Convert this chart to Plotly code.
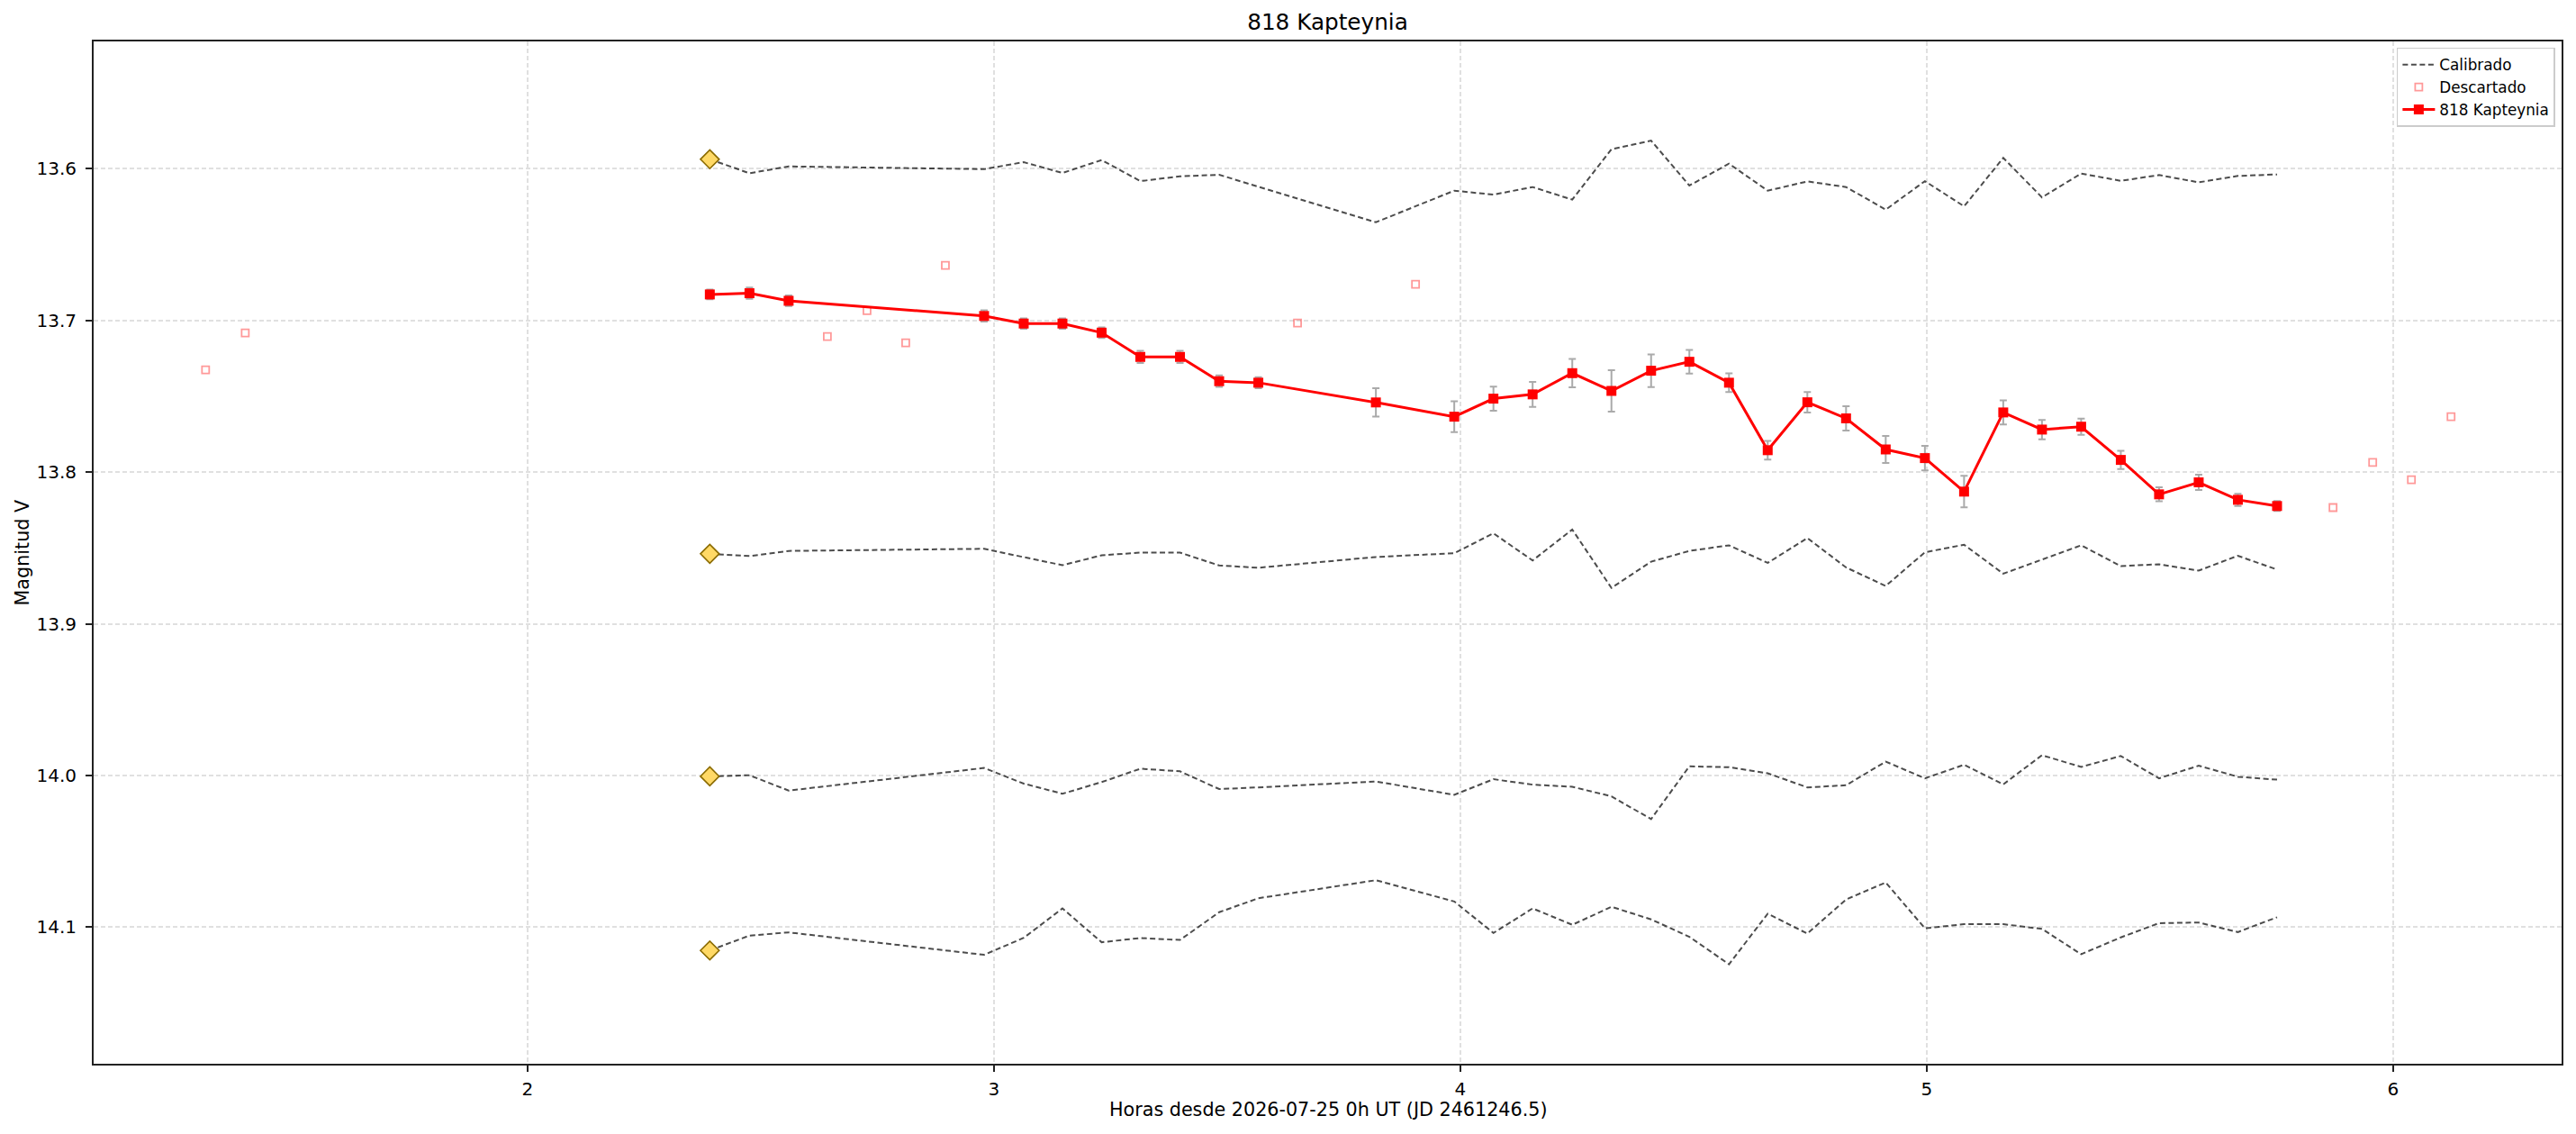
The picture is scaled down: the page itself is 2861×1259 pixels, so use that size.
import plotly.graph_objects as go

# ---- data ----
hours = [2.391, 2.476, 2.560, 2.979, 3.064, 3.147, 3.231, 3.314, 3.399, 3.483, 3.567,
         3.819, 3.987, 4.071, 4.155, 4.240, 4.324, 4.409, 4.491, 4.576, 4.659, 4.744,
         4.827, 4.912, 4.996, 5.080, 5.164, 5.247, 5.331, 5.416, 5.498, 5.583, 5.667, 5.751]

target_mag = [13.6828, 13.6820, 13.6870, 13.6970, 13.7020, 13.7020, 13.7080, 13.7240, 13.7240,
              13.7400, 13.7410, 13.7540, 13.7634, 13.7515, 13.7487, 13.7347, 13.7464, 13.7331,
              13.7272, 13.7410, 13.7855, 13.7539, 13.7645, 13.7850, 13.7907, 13.8128, 13.7606,
              13.7719, 13.7700, 13.7919, 13.8146, 13.8067, 13.8182, 13.8223]

target_err = [0.0032, 0.0037, 0.0035, 0.0037, 0.0034, 0.0034, 0.0035, 0.0040, 0.0040, 0.0038,
              0.0036, 0.0094, 0.0102, 0.0079, 0.0083, 0.0093, 0.0136, 0.0108, 0.0078, 0.0062,
              0.0062, 0.0067, 0.0080, 0.0089, 0.0081, 0.0104, 0.0080, 0.0064, 0.0053, 0.0060,
              0.0046, 0.0050, 0.0040, 0.0033]

cal_1 = [13.5937, 13.6029, 13.5984, 13.6002, 13.5956, 13.6027, 13.5942, 13.6081, 13.6049, 13.6039,
         13.6118, 13.6352, 13.6144, 13.6170, 13.6120, 13.6203, 13.5871, 13.5814, 13.6110, 13.5966,
         13.6144, 13.6083, 13.6120, 13.6269, 13.6081, 13.6247, 13.5928, 13.6188, 13.6031, 13.6079,
         13.6041, 13.6089, 13.6047, 13.6037]

cal_2 = [13.8538, 13.8553, 13.8519, 13.8505, 13.8560, 13.8613, 13.8548, 13.8530, 13.8530, 13.8615,
         13.8630, 13.8559, 13.8534, 13.8403, 13.8582, 13.8378, 13.8763, 13.8590, 13.8519, 13.8482,
         13.8598, 13.8434, 13.8628, 13.8750, 13.8528, 13.8478, 13.8669, 13.8576, 13.8482, 13.8619,
         13.8607, 13.8649, 13.8551, 13.8642]

cal_3 = [14.0005, 13.9998, 14.0099, 13.9950, 14.0053, 14.0120, 14.0043, 13.9955, 13.9972, 14.0089,
         14.0078, 14.0039, 14.0127, 14.0024, 14.0060, 14.0074, 14.0137, 14.0287, 13.9939, 13.9945,
         13.9985, 14.0078, 14.0064, 13.9908, 14.0018, 13.9929, 14.0058, 13.9866, 13.9943, 13.9871,
         14.0018, 13.9935, 14.0008, 14.0027]

cal_4 = [14.1153, 14.1055, 14.1034, 14.1182, 14.1070, 14.0876, 14.1099, 14.1071, 14.1084, 14.0901,
         14.0809, 14.0690, 14.0830, 14.1038, 14.0876, 14.0984, 14.0865, 14.0948, 14.1063, 14.1244,
         14.0911, 14.1042, 14.0817, 14.0705, 14.1007, 14.0980, 14.0980, 14.1011, 14.1178, 14.1067,
         14.0973, 14.0969, 14.1032, 14.0934]

disc_hours = [1.310, 1.395, 2.643, 2.728, 2.811, 2.896, 3.651, 3.904, 5.871, 5.956, 6.039, 6.124]
disc_mag = [13.7325, 13.7082, 13.7106, 13.6935, 13.7147, 13.6637, 13.7016, 13.6761,
            13.8233, 13.7936, 13.8050, 13.7634]

x_ticks = [2, 3, 4, 5, 6]
y_ticks = [13.6, 13.7, 13.8, 13.9, 14.0, 14.1]

title_text = "818 Kapteynia"
x_label = "Horas desde 2026-07-25 0h UT (JD 2461246.5)"
y_label = "Magnitud V"

# ---- figure ----
FONT = "DejaVu Sans"
fig = go.Figure()

cal_series = [cal_1, cal_2, cal_3, cal_4]
for i, c in enumerate(cal_series):
    fig.add_trace(go.Scatter(
        x=hours, y=c, mode="lines", name="Calibrado",
        legendgroup="cal", showlegend=(i == 0),
        line=dict(color="rgba(0,0,0,0.7)", width=2, dash="6px,3.5px"),
    ))

fig.add_trace(go.Scatter(
    x=disc_hours, y=disc_mag, mode="markers", name="Descartado",
    marker=dict(symbol="square-open", size=8, color="rgba(255,0,0,0.4)",
                line=dict(width=1.8, color="rgba(255,0,0,0.4)")),
))

fig.add_trace(go.Scatter(
    x=hours, y=target_mag, mode="lines+markers", name=title_text,
    line=dict(color="#ff0000", width=3),
    marker=dict(symbol="square", size=11, color="#ff0000"),
    error_y=dict(type="data", array=target_err, visible=True,
                 color="#aaaaaa", thickness=2, width=4),
))

fig.add_trace(go.Scatter(
    x=[hours[0]] * len(cal_series), y=[c[0] for c in cal_series],
    mode="markers", showlegend=False,
    marker=dict(symbol="diamond", size=16, color="#FFD966",
                line=dict(color="#8B6B00", width=1.6)),
))

axis_common = dict(
    showline=True, mirror=True, linecolor="#222222", linewidth=2,
    ticks="outside", ticklen=7, tickwidth=1.5, tickcolor="#222222",
    showgrid=True, gridcolor="#e0e0e0", gridwidth=1.5, griddash="5px,3px",
    zeroline=False, tickfont=dict(family=FONT, size=20, color="black"),
)

fig.update_xaxes(range=[1.07, 6.361], tickvals=x_ticks, ticktext=[str(v) for v in x_ticks],
                 ticklabelstandoff=2, **axis_common)
fig.update_yaxes(range=[14.19, 13.516], tickvals=y_ticks,
                 ticktext=[f"{v:.1f}" for v in y_ticks],
                 ticklabelstandoff=6, **axis_common)

fig.update_layout(
    width=2861, height=1259,
    margin=dict(l=104, r=16, t=46, b=78),
    paper_bgcolor="white", plot_bgcolor="white",
    font=dict(family=FONT, color="black"),
    title=dict(text=title_text, x=0.5, xref="paper", xanchor="center",
               y=1 - 24 / 1259, yref="container", yanchor="middle",
               font=dict(family=FONT, size=24.7, color="black")),
    legend=dict(x=0.9974, y=0.994, xanchor="right", yanchor="top",
                bgcolor="rgba(255,255,255,0.85)", bordercolor="#cccccc", borderwidth=1.5,
                font=dict(family=FONT, size=16.8, color="black"),
                tracegroupgap=0, itemwidth=36),
    annotations=[
        dict(text=x_label, xref="paper", yref="paper", x=0.5, y=-(1232 - 1181) / 1135,
             xanchor="center", yanchor="middle", showarrow=False,
             font=dict(family=FONT, size=20.7, color="black")),
        dict(text=y_label, xref="paper", yref="paper", x=-(104 - 24) / 2741, y=0.5,
             xanchor="center", yanchor="middle", textangle=-90, showarrow=False,
             font=dict(family=FONT, size=20.7, color="black")),
    ],
    showlegend=True,
)

fig.write_html("out.html")
